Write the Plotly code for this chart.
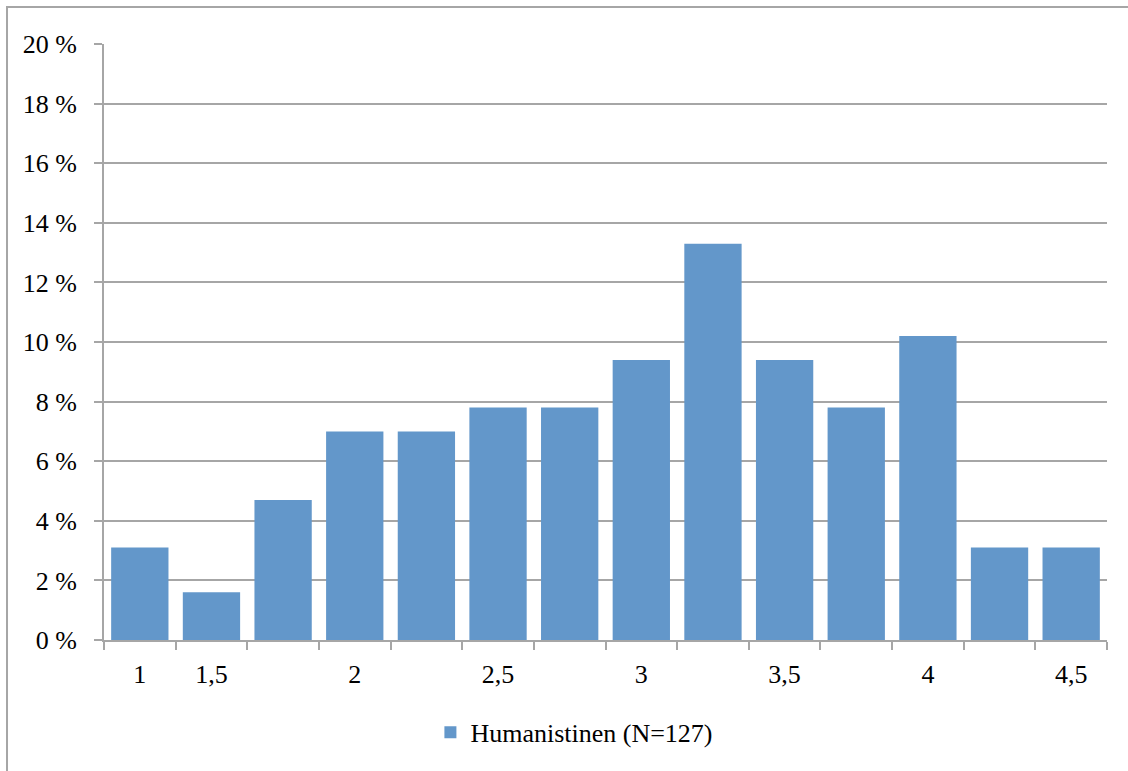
import plotly.graph_objects as go

# Share of respondents per score category (percent)
categories = list(range(14))
tick_labels = ["1", "1,5", "", "2", "", "2,5", "", "3", "", "3,5", "", "4", "", "4,5"]
shares = [3.1, 1.6, 4.7, 7.0, 7.0, 7.8, 7.8, 9.4, 13.3, 9.4, 7.8, 10.2, 3.1, 3.1]
series_name = "Humanistinen (N=127)"

BAR = "#6397CA"
GRID = "#a6a6a6"
FONT = dict(family="Liberation Serif, Times New Roman, serif", size=26, color="#000000")

fig = go.Figure()
fig.add_trace(go.Bar(
    x=categories,
    y=shares,
    name=series_name,
    marker=dict(color=BAR, line=dict(width=0)),
    showlegend=True,
))

fig.update_layout(
    width=1128,
    height=771,
    paper_bgcolor="white",
    plot_bgcolor="white",
    font=FONT,
    bargap=0.2,
    margin=dict(l=104, r=21, t=44, b=131, pad=0),
    showlegend=True,
    legend=dict(
        orientation="h",
        x=0.469,
        xanchor="center",
        y=-0.155,
        yanchor="middle",
        font=FONT,
        itemwidth=30,
    ),
    xaxis=dict(
        type="category",
        tickmode="array",
        tickvals=categories,
        ticktext=tick_labels,
        tickson="boundaries",
        ticks="outside",
        ticklen=8,
        tickwidth=2,
        tickcolor=GRID,
        ticklabelstandoff=10,
        showline=True,
        linecolor=GRID,
        linewidth=2,
        showgrid=False,
        tickfont=FONT,
    ),
    yaxis=dict(
        range=[0, 20],
        dtick=2,
        tick0=0,
        ticksuffix=" %",
        ticks="outside",
        ticklen=8,
        tickwidth=2,
        tickcolor=GRID,
        ticklabelstandoff=12,
        showline=True,
        linecolor=GRID,
        linewidth=2,
        showgrid=True,
        gridcolor=GRID,
        gridwidth=2,
        zeroline=False,
        tickfont=FONT,
    ),
    shapes=[
        dict(
            type="rect",
            xref="paper",
            yref="paper",
            x0=-0.0967,
            x1=1.2,
            y0=-0.5,
            y1=1.062,
            line=dict(color=GRID, width=2),
            fillcolor="rgba(0,0,0,0)",
            layer="below",
        )
    ],
)

fig.write_html("out.html")
